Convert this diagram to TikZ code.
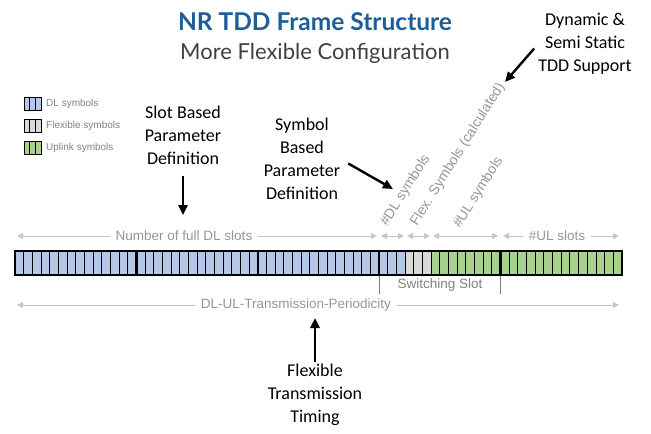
\documentclass[tikz,border=0pt]{standalone}
\usepackage{fontspec}
\setmainfont{Carlito}
\setsansfont{Liberation Sans}
\newfontfamily\titlefont{Lato}
\usetikzlibrary{arrows.meta,positioning}

\definecolor{dlblue}{RGB}{180,199,231}
\definecolor{flexgray}{RGB}{217,217,217}
\definecolor{ulgreen}{RGB}{169,209,142}
\definecolor{titleblue}{RGB}{31,93,153}
\definecolor{subgray}{RGB}{64,64,64}
\definecolor{labelgray}{RGB}{150,150,150}
\definecolor{dimgray}{RGB}{196,198,206}

\def\symw{8.671}
\def\barx{15}

\tikzset{
  note/.style={align=center,font=\fontsize{18}{23}\selectfont,inner sep=0pt},
  callout/.style={-{Triangle[length=10pt,width=9pt]},line width=2.4pt,black},
  dimtext/.style={text=labelgray,font=\sffamily\fontsize{13.5}{16}\selectfont,inner ysep=0pt,inner xsep=6pt},
  rottext/.style={text=labelgray,font=\sffamily\fontsize{14}{16}\selectfont,inner sep=0pt,rotate=58,anchor=base west},
  dimarrow/.style={dimgray,line width=1pt,-{Triangle[length=6pt,width=6pt]}},
  dimboth/.style={dimgray,line width=1pt,{Triangle[length=6pt,width=6pt]}-{Triangle[length=6pt,width=6pt]}},
  cell/.style={draw=black,line width=0.9pt},
  legtext/.style={text=labelgray!85!black,font=\sffamily\fontsize{10}{12}\selectfont,inner sep=0pt,anchor=west}
}

\begin{document}
\begin{tikzpicture}[x=1pt,y=-1pt]
    \useasboundingbox (0,0) rectangle (651,434);

    \node[font=\titlefont\bfseries\fontsize{24.5}{28}\selectfont,text=titleblue] (title) at (315,22) {NR TDD Frame Structure};
    \node[font=\titlefont\fontsize{22}{26}\selectfont,text=subgray] (subtitle) at (315,53) {More Flexible Configuration};

    % legend
    \foreach \c/\y/\t [count=\k] in {dlblue/104/DL symbols,flexgray/126/Flexible symbols,ulgreen/148/Uplink symbols} {
        \foreach \j in {0,1,2}
            \draw[cell,line width=0.7pt,fill=\c] ({24+\j*5.8},\y-6.5) rectangle ++(5.8,13);
        \node[legtext] (leg\k) at (46,\y) {\t};
    }

    % frame
    \foreach \i in {0,...,44}
        \draw[cell,fill=dlblue] ({\barx+\i*\symw},251) rectangle ++(\symw,24);
    \foreach \i in {45,46,47}
        \draw[cell,fill=flexgray] ({\barx+\i*\symw},251) rectangle ++(\symw,24);
    \foreach \i in {48,...,69}
        \draw[cell,fill=ulgreen] ({\barx+\i*\symw},251) rectangle ++(\symw,24);
    \foreach \s in {1,...,4}
        \draw[line width=2.4pt] ({\barx+14*\s*\symw},251) -- ++(0,24);
    \draw[line width=1.8pt] (\barx,251) rectangle (622,275);

    % upper dimensions
    \coordinate (a0) at (17,236);
    \coordinate (a1) at (377,236);
    \coordinate (b0) at (381,236);
    \coordinate (b1) at (404,236);
    \coordinate (c0) at (407,236);
    \coordinate (c1) at (430,236);
    \coordinate (d0) at (433,236);
    \coordinate (d1) at (498,236);
    \coordinate (e0) at (503,236);
    \coordinate (e1) at (619,236);
    \node[dimtext] (fulldl) at (184,236) {Number of full DL slots};
    \draw[dimarrow] (fulldl.west) -- (a0);
    \draw[dimarrow] (fulldl.east) -- (a1);
    \draw[dimboth] (b0) -- (b1);
    \draw[dimboth] (c0) -- (c1);
    \draw[dimboth] (d0) -- (d1);
    \node[dimtext] (ulslots) at (557,236) {\#UL slots};
    \draw[dimarrow] (ulslots.west) -- (e0);
    \draw[dimarrow] (ulslots.east) -- (e1);
    \node[rottext] (dlsym) at (387,227) {\#DL symbols};
    \node[rottext] (flexsym) at (417,227) {Flex. Symbols (calculated)};
    \node[rottext] (ulsym) at (460,229) {\#UL symbols};

    % switching slot
    \coordinate (sw0) at (379,276);
    \coordinate (sw1) at (500,276);
    \draw[gray,line width=0.8pt] (sw0) -- ++(0,18);
    \draw[gray,line width=0.8pt] (sw1) -- ++(0,18);
    \node[dimtext,text=gray] (switch) at (440,285) {Switching Slot};

    % periodicity
    \coordinate (p0) at (17,305);
    \coordinate (p1) at (619,305);
    \node[dimtext] (period) at (296,305) {DL-UL-Transmission-Periodicity};
    \draw[dimarrow] (period.west) -- (p0);
    \draw[dimarrow] (period.east) -- (p1);

    % callouts
    \node[note] (slotnote) at (183,135) {Slot Based\\Parameter\\Definition};
    \coordinate (slottip) at (183,215);
    \draw[callout,shorten <=11pt] (slotnote.south) -- (slottip);

    \node[note] (symnote) at (302,159) {Symbol\\Based\\Parameter\\Definition};
    \coordinate (symtip) at (393,189);
    \draw[callout,shorten <=9pt] (symnote.east) -- (symtip);

    \node[note] (dynnote) at (585,44) {Dynamic \&\\Semi Static\\TDD Support};
    \coordinate (dyntip) at (505,82);
    \draw[callout,shorten <=6pt] (dynnote.west) -- (dyntip);

    \node[note] (flexnote) at (315,395) {Flexible\\Transmission\\Timing};
    \coordinate (flextip) at (315,318);
    \draw[callout,shorten <=2pt] (flexnote.north) -- (flextip);
\end{tikzpicture}
\end{document}
